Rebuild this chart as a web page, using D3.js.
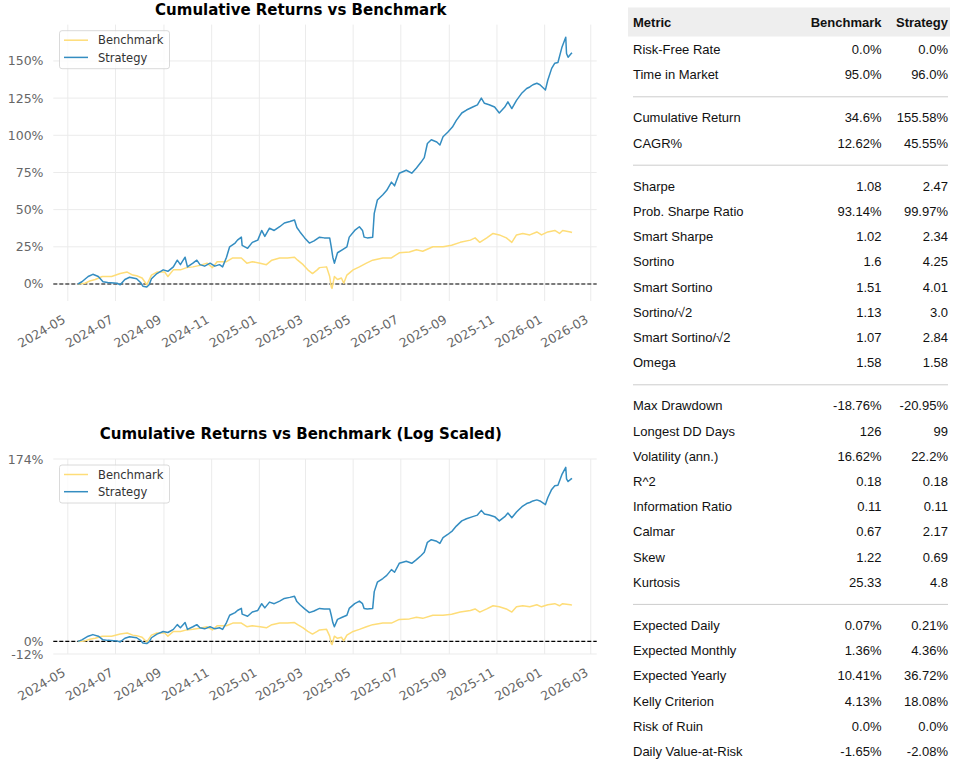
<!DOCTYPE html>
<html>
<head>
<meta charset="utf-8">
<script src="https://cdn.jsdelivr.net/npm/d3@7"></script>
<style>
  body { margin: 0; background: #fff; }
  svg { display: block; }
</style>
</head>
<body>
<svg id="chart" width="953" height="760"></svg>
<script>
// cumulative returns in %
const benchmarkReturns = [
  ["2024-05-14",0],["2024-05-23",0.5],["2024-05-29",2],["2024-06-05",3],["2024-06-14",5],["2024-06-26",5],
  ["2024-07-07",7],["2024-07-16",8],["2024-07-23",6],["2024-07-28",5.5],["2024-08-04",4],["2024-08-10",-0.5],
  ["2024-08-16",6],["2024-08-23",8],["2024-09-02",8],["2024-09-06",5],["2024-09-13",9.5],["2024-09-22",9.5],
  ["2024-09-30",11],["2024-10-08",11.5],["2024-10-17",12.5],["2024-10-26",14],["2024-11-02",11],["2024-11-08",15],
  ["2024-11-20",15],["2024-11-28",17.5],["2024-12-09",17.5],["2024-12-16",14],["2024-12-23",15],["2025-01-02",14],
  ["2025-01-10",13],["2025-01-17",16],["2025-01-27",17.5],["2025-02-06",17.5],["2025-02-15",18],["2025-02-19",16],
  ["2025-02-26",13],["2025-03-04",9.5],["2025-03-10",7],["2025-03-16",9.5],["2025-03-19",11],["2025-03-28",11.5],
  ["2025-04-01",5],["2025-04-03",-2],["2025-04-04",-3],["2025-04-07",5],["2025-04-11",3],["2025-04-16",4],
  ["2025-04-19",0.5],["2025-04-23",6],["2025-05-01",9.5],["2025-05-09",11.5],["2025-05-18",14],["2025-05-26",16],
  ["2025-06-08",17.5],["2025-06-19",17.5],["2025-06-29",21],["2025-07-12",21.5],["2025-07-21",23],["2025-07-29",22],
  ["2025-08-11",25],["2025-08-24",25],["2025-09-04",26],["2025-09-15",28],["2025-09-28",29.5],["2025-10-04",31],
  ["2025-10-10",28],["2025-10-19",31],["2025-10-27",34],["2025-11-04",33],["2025-11-13",31],["2025-11-20",28],
  ["2025-11-26",33],["2025-12-04",34],["2025-12-13",33],["2025-12-22",35],["2025-12-28",33],["2026-01-05",35],
  ["2026-01-14",36],["2026-01-20",34],["2026-01-24",36],["2026-02-03",35],["2026-02-05",34.6]
];

const strategyReturns = [
  ["2024-05-14",0],["2024-05-19",1.5],["2024-05-27",5],["2024-06-02",6.5],["2024-06-09",5],["2024-06-15",1.5],
  ["2024-06-21",1],["2024-07-03",0.5],["2024-07-07",-0.5],["2024-07-13",3],["2024-07-19",4.5],["2024-07-28",3.5],
  ["2024-08-02",1],["2024-08-05",-1.5],["2024-08-10",-2],["2024-08-13",-0.5],["2024-08-16",3.5],["2024-08-23",7],
  ["2024-08-31",9.5],["2024-09-06",8.5],["2024-09-13",11.5],["2024-09-18",16],["2024-09-22",13],["2024-09-28",18],
  ["2024-10-01",11.5],["2024-10-08",14],["2024-10-13",16],["2024-10-17",13],["2024-10-23",12],["2024-10-30",14],
  ["2024-11-05",12],["2024-11-11",13],["2024-11-15",11.5],["2024-11-20",18],["2024-11-24",25],["2024-12-01",27.5],
  ["2024-12-04",29.5],["2024-12-09",31.5],["2024-12-10",26],["2024-12-17",24],["2024-12-23",28],["2024-12-30",29.5],
  ["2025-01-04",36],["2025-01-08",32],["2025-01-14",37.5],["2025-01-20",36],["2025-01-27",38.5],["2025-02-02",41],
  ["2025-02-09",42],["2025-02-15",43],["2025-02-18",38],["2025-02-22",35],["2025-02-28",31],["2025-03-06",27.5],
  ["2025-03-12",29],["2025-03-19",31.5],["2025-03-25",31],["2025-04-01",31],["2025-04-03",25],["2025-04-05",18],
  ["2025-04-07",14],["2025-04-11",21],["2025-04-17",23],["2025-04-23",25],["2025-04-26",31.5],["2025-05-03",36],
  ["2025-05-09",38.5],["2025-05-13",36],["2025-05-15",31.5],["2025-05-19",31],["2025-05-26",31.5],["2025-05-28",47.5],
  ["2025-06-01",56.5],["2025-06-08",60],["2025-06-13",63],["2025-06-19",68.5],["2025-06-23",66],["2025-06-29",74.5],
  ["2025-07-08",76.5],["2025-07-15",74.5],["2025-07-21",78],["2025-07-27",82],["2025-07-31",85],["2025-08-04",94.5],
  ["2025-08-09",97],["2025-08-16",95.5],["2025-08-20",93.5],["2025-08-24",99],["2025-08-30",102],["2025-09-05",105.5],
  ["2025-09-10",110],["2025-09-17",115],["2025-09-23",117],["2025-10-01",119],["2025-10-07",120.5],["2025-10-12",125],
  ["2025-10-16",121.5],["2025-10-22",120.5],["2025-10-29",119],["2025-11-04",115],["2025-11-11",119],["2025-11-15",122.5],
  ["2025-11-20",118],["2025-11-26",123.5],["2025-12-03",128.5],["2025-12-09",131.5],["2025-12-13",132.5],["2025-12-17",134],
  ["2025-12-22",135],["2025-12-26",134],["2026-01-02",130.5],["2026-01-05",137],["2026-01-10",145],["2026-01-14",148.5],
  ["2026-01-18",149],["2026-01-23",159],["2026-01-28",166],["2026-01-29",155],["2026-01-31",152.5],["2026-02-04",155],
  ["2026-02-05",155.58]
];

const seriesNames = ["Benchmark", "Strategy"];
const linearTicks = [0, 25, 50, 75, 100, 125, 150];
const logScaledTicks = [-12, 0, 174];

// metrics table, null = separator line
const metricNames = ["Risk-Free Rate","Time in Market",null,"Cumulative Return","CAGR%",null,
  "Sharpe","Prob. Sharpe Ratio","Smart Sharpe","Sortino","Smart Sortino","Sortino/√2","Smart Sortino/√2","Omega",null,
  "Max Drawdown","Longest DD Days","Volatility (ann.)","R^2","Information Ratio","Calmar","Skew","Kurtosis",null,
  "Expected Daily","Expected Monthly","Expected Yearly","Kelly Criterion","Risk of Ruin","Daily Value-at-Risk"];
const benchmarkStats = ["0.0%","95.0%",null,"34.6%","12.62%",null,
  "1.08","93.14%","1.02","1.6","1.51","1.13","1.07","1.58",null,
  "-18.76%","126","16.62%","0.18","0.11","0.67","1.22","25.33",null,
  "0.07%","1.36%","10.41%","4.13%","0.0%","-1.65%"];
const strategyStats = ["0.0%","96.0%",null,"155.58%","45.55%",null,
  "2.47","99.97%","2.34","4.25","4.01","3.0","2.84","1.58",null,
  "-20.95%","99","22.2%","0.18","0.11","2.17","0.69","4.8",null,
  "0.21%","4.36%","36.72%","18.08%","0.0%","-2.08%"];

const COLORS = { Benchmark: "#fedd78", Strategy: "#348dc1" };
const PLOT_FONT = "'DejaVu Sans', sans-serif";
const TABLE_FONT = "'Liberation Sans', Arial, sans-serif";

const svg = d3.select("#chart");
svg.append("rect").attr("width", 953).attr("height", 760).attr("fill", "#fff");

const parse = d3.utcParse("%Y-%m-%d");
const series = [
  { name: seriesNames[0], values: benchmarkReturns.map(d => ({ date: parse(d[0]), v: d[1] })) },
  { name: seriesNames[1], values: strategyReturns.map(d => ({ date: parse(d[0]), v: d[1] })) }
];
const allPoints = series.flatMap(s => s.values);

// matplotlib style 5% margins
function padded(extent) {
  var span = extent[1] - extent[0];
  return [extent[0] - span * 0.05, extent[1] + span * 0.05];
}

var dateExtent = d3.extent(allPoints, d => d.date).map(d => +d);
var x = d3.scaleUtc()
  .domain(padded(dateExtent).map(d => new Date(d)))
  .range([53.3, 596.7]);

function drawPanel(cfg) {
  var g = svg.append("g");
  var y = d3.scaleLinear().domain(cfg.yDomain).range([cfg.bottom, cfg.top]);
  var xTicks = x.ticks(d3.utcMonth.every(2));

  // grid
  g.append("g").selectAll("line").data(xTicks).join("line")
    .attr("x1", d => x(d)).attr("x2", d => x(d))
    .attr("y1", cfg.top).attr("y2", cfg.bottom)
    .attr("stroke", "#ebebeb").attr("stroke-width", 1);
  g.append("g").selectAll("line").data(cfg.yTicks).join("line")
    .attr("x1", x.range()[0]).attr("x2", x.range()[1])
    .attr("y1", d => y(d)).attr("y2", d => y(d))
    .attr("stroke", "#ebebeb").attr("stroke-width", 1);

  // y tick labels
  g.append("g").selectAll("text").data(cfg.yTicks).join("text")
    .attr("x", 43.5).attr("y", d => y(d)).attr("dy", "0.36em")
    .attr("text-anchor", "end")
    .attr("font-family", PLOT_FONT).attr("font-size", 12.5).attr("fill", "#666")
    .text(d => d + "%");

  // x tick labels, rotated 30deg
  var fmt = d3.utcFormat("%Y-%m");
  g.append("g").selectAll("text").data(xTicks).join("text")
    .attr("transform", d => `translate(${x(d) - 1.5},${cfg.bottom + 21}) rotate(-30)`)
    .attr("text-anchor", "end")
    .attr("font-family", PLOT_FONT).attr("font-size", 12.5).attr("fill", "#666")
    .text(d => fmt(d));

  // zero line
  g.append("line")
    .attr("x1", x.range()[0]).attr("x2", x.range()[1])
    .attr("y1", y(0)).attr("y2", y(0))
    .attr("stroke", "#000").attr("stroke-width", 1.1)
    .attr("stroke-dasharray", "4,2");

  var line = d3.line().x(d => x(d.date)).y(d => y(d.v));
  g.append("g").selectAll("path").data(series).join("path")
    .attr("d", d => line(d.values))
    .attr("fill", "none")
    .attr("stroke", d => COLORS[d.name])
    .attr("stroke-width", 1.5)
    .attr("stroke-linejoin", "round");

  // title
  g.append("text")
    .attr("x", 300.8).attr("y", cfg.titleY)
    .attr("text-anchor", "middle")
    .attr("font-family", PLOT_FONT).attr("font-size", 15).attr("font-weight", "bold")
    .attr("fill", "#000")
    .text(cfg.title);

  // legend
  var lg = g.append("g").attr("transform", `translate(59.5,${cfg.legendTop})`);
  lg.append("rect")
    .attr("width", 110).attr("height", 38).attr("rx", 2.5)
    .attr("fill", "#fff").attr("fill-opacity", 0.8)
    .attr("stroke", "#d0d0d0").attr("stroke-width", 0.8);
  var item = lg.selectAll("g.item").data(seriesNames).join("g")
    .attr("class", "item")
    .attr("transform", (d, i) => `translate(0,${9.5 + i * 17.2})`);
  item.append("line")
    .attr("x1", 4.5).attr("x2", 28.5)
    .attr("stroke", d => COLORS[d]).attr("stroke-width", 1.5);
  item.append("text")
    .attr("x", 38.5).attr("dy", "0.36em")
    .attr("font-family", PLOT_FONT).attr("font-size", 11.5).attr("fill", "#333")
    .text(d => d);
}

drawPanel({
  title: "Cumulative Returns vs Benchmark",
  titleY: 15,
  top: 24.6, bottom: 301,
  yDomain: padded(d3.extent(allPoints, d => d.v)),
  yTicks: linearTicks,
  legendTop: 30.7
});

drawPanel({
  title: "Cumulative Returns vs Benchmark (Log Scaled)",
  titleY: 438.5,
  top: 459, bottom: 654,
  yDomain: d3.extent(logScaledTicks),
  yTicks: logScaledTicks,
  legendTop: 465
});

// metrics table
var table = svg.append("g").attr("font-family", TABLE_FONT).attr("font-size", 13).attr("fill", "#111");
var colMetric = 633, colBench = 881.5, colStrat = 948;

table.append("rect").attr("x", 628).attr("y", 7.5).attr("width", 322).attr("height", 29).attr("fill", "#eeeeee");
var header = table.append("g").attr("font-weight", "bold");
header.append("text").attr("x", colMetric).attr("y", 26.5).text("Metric");
header.append("text").attr("x", colBench).attr("y", 26.5).attr("text-anchor", "end").text(seriesNames[0]);
header.append("text").attr("x", colStrat).attr("y", 26.5).attr("text-anchor", "end").text(seriesNames[1]);

var rowY = 54, rowStep = 25.2;
metricNames.forEach(function(name, i) {
  if (name === null) {
    table.append("line")
      .attr("x1", colMetric).attr("x2", colStrat)
      .attr("y1", rowY - rowStep + 17.6).attr("y2", rowY - rowStep + 17.6)
      .attr("stroke", "#cccccc").attr("stroke-width", 1);
    rowY += 43.2 - rowStep;
    return;
  }
  table.append("text").attr("x", colMetric).attr("y", rowY).text(name);
  table.append("text").attr("x", colBench).attr("y", rowY).attr("text-anchor", "end").text(benchmarkStats[i]);
  table.append("text").attr("x", colStrat).attr("y", rowY).attr("text-anchor", "end").text(strategyStats[i]);
  rowY += rowStep;
});
</script>
</body>
</html>
